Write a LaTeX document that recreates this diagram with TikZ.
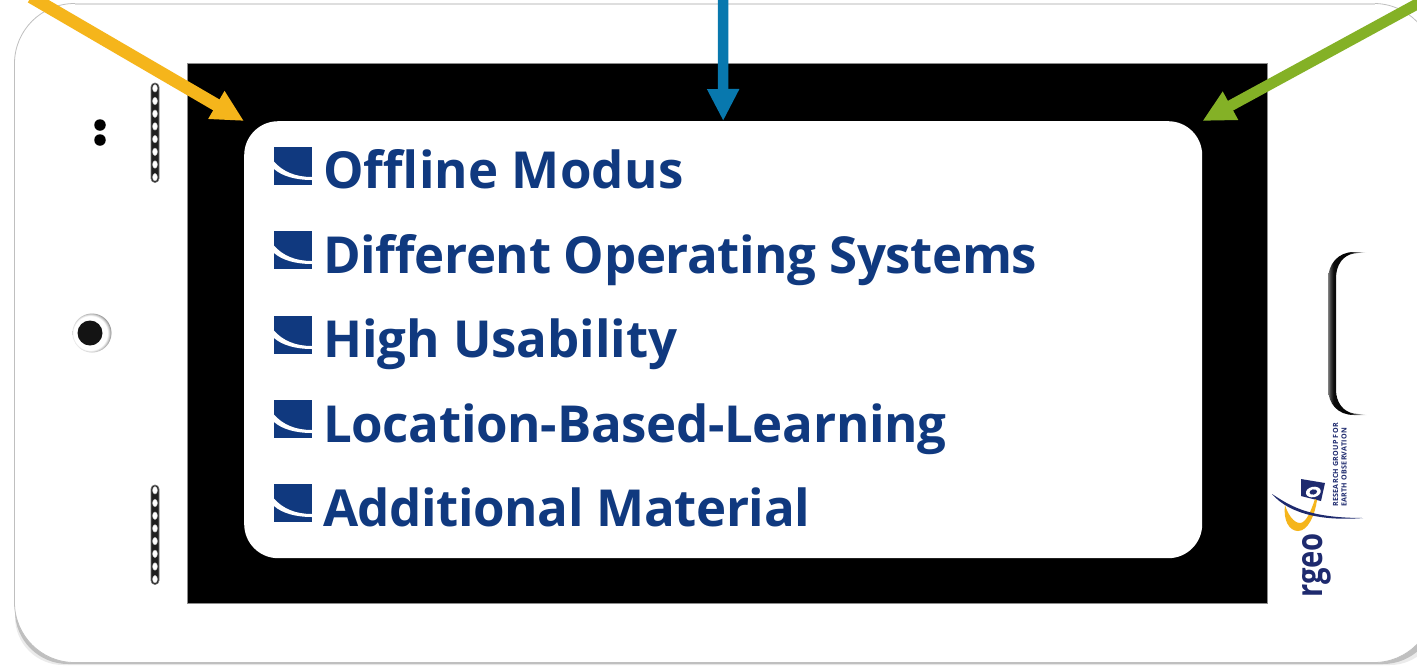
\documentclass[tikz,border=0pt]{standalone}
\usepackage{fontspec}
\usepackage{graphicx}
\setmainfont{Open Sans}
\usetikzlibrary{arrows.meta,calc,shapes.geometric}
\definecolor{navy}{HTML}{10397F}
\definecolor{logonavy}{HTML}{1E2A6E}
\definecolor{ayellow}{HTML}{F5B51B}
\definecolor{ablue}{HTML}{0878AE}
\definecolor{agreen}{HTML}{84B126}
\pgfdeclarehorizontalshading{homefade}{100bp}{color(0bp)=(black!50); color(25bp)=(black!50); color(28bp)=(black!75); color(32bp)=(black!95); color(52bp)=(black); color(75bp)=(white); color(100bp)=(white)}
\pgfdeclareradialshading{lensring}{\pgfpoint{-4bp}{0bp}}{color(0bp)=(white); color(22bp)=(white); color(24bp)=(black!18); color(26.5bp)=(black!45); color(50bp)=(black!45)}
\tikzset{
  x=1pt,y=-1pt,
  body/.style={draw=black!25,line width=.8pt,fill=white,rounded corners=60pt},
  callout/.style={line width=10.5pt,-{Triangle[width=30pt,length=32pt]}},
  item/.style={anchor=base west,text=navy,font=\fontsize{51}{60}\selectfont\bfseries,inner sep=0pt},
  bullet/.style={fill=navy},
  swoosh/.style={fill=white},
  speaker/.style={fill=black!88,draw=black!55,line width=.7pt,rounded corners=4pt},
  hole/.style={ellipse,fill=white,draw=black!30,line width=.4pt,inner sep=0pt,minimum width=5pt,minimum height=7.6pt},
  logotext/.style={text=logonavy,rotate=90,inner sep=0pt,font=\bfseries}
}
\newcommand{\bulletmark}[1]{%
  \fill[bullet] (274,#1) rectangle ++(38,38);
  \fill[swoosh] (274,#1+14.5) .. controls (283,#1+25) and (296,#1+30) .. (312,#1+30)
     -- (312,#1+33) .. controls (295,#1+33) and (282,#1+29) .. (274,#1+22) -- cycle;
}
\newcommand{\track}[2]{{\addfontfeature{LetterSpace=#1}#2}}
\begin{document}
\begin{tikzpicture}
\useasboundingbox (0,0) rectangle (1417,665);
% shadow and body
\begin{scope}
\clip (0,540) rectangle (1417,665);
\fill[rounded corners=48pt,black!8] (15,300) rectangle (1438,665);
\fill[rounded corners=53pt,black!25] (15,300) rectangle (1436,664);
\end{scope}
\draw[body] (14.5,3.5) rectangle (1434,662.5);
\draw[black!13,line width=2pt] (75,3.5) -- (1375,3.5);
% screen
\node[draw=black!45,line width=.8pt,fill=black,minimum width=1080pt,minimum height=539.5pt,inner sep=0pt,anchor=north west] (bezel) at (187,63.3) {};
\node[fill=white,rounded corners=34pt,minimum width=958pt,minimum height=437pt,inner sep=0pt,anchor=north west] (screen) at (244,121) {};
% list
\bulletmark{147}\node[item] (i1) at (323,188) {\track{0.3}{Offline Modus}};
\bulletmark{231}\node[item] (i2) at (323,273) {\track{-0.8}{Different Operating Systems}};
\bulletmark{316}\node[item] (i3) at (323,357) {\track{-0.1}{High Usability}};
\bulletmark{400}\node[item] (i4) at (323,442) {\track{-0.6}{Location-Based-Learning}};
\bulletmark{484}\node[item] (i5) at (323,526) {\track{-0.82}{Additional Material}};
% arrows
\coordinate (ya) at (31,-3);
\coordinate (ba) at (723,-3);
\coordinate (ga) at (1430,-3);
\draw[callout,ayellow,line width=12.6pt] (ya) -- (screen.north west);
\draw[callout,ablue] (ba) -- (screen.north);
\draw[callout,agreen,line width=11pt] (ga) -- (screen.north east);
% speakers
\foreach \top in {83,485}{
  \draw[speaker] (151,\top) rectangle ++(8,99.5);
  \foreach \i in {0,...,7}{
    \node[hole] (h\top\i) at (155,\top+5.3+\i*12.7) {};
  }
}
% sensor dots
\node[circle,fill=black,minimum size=11.5pt,inner sep=0pt] (s1) at (100,125) {};
\node[circle,fill=black,minimum size=11.5pt,inner sep=0pt] (s2) at (100,140) {};
% camera
\node[circle,shading=lensring,minimum size=39pt,inner sep=0pt] (camring) at (92,333) {};
\node[circle,fill=black!92,minimum size=25pt,inner sep=0pt] (lens) at (90,333) {};
% home button
\shade[shading=homefade] (1367,252) -- (1354,252)
   .. controls (1338,252) and (1328,264) .. (1328,280)
   -- (1328,388) .. controls (1328,404) and (1338,415) .. (1354,415)
   -- (1367,415) -- (1354,413.5) .. controls (1343,412) and (1336,402) .. (1336,390)
   -- (1336,278) .. controls (1336,265) and (1343,255) .. (1354,253.5) -- cycle;
% logo
\node[logotext,anchor=base west,font=\fontsize{36}{40}\selectfont\bfseries] (rgeo) at (1322,598) {\scalebox{.81}[1]{rgeo}};
\fill[logonavy] (1301,479) -- (1325,483) -- (1321,501) -- (1301,496) -- cycle;
\fill[white,rotate around={12:(1313.3,492)}] (1313.3,492) ellipse [x radius=7.5,y radius=5.2];
\fill[logonavy,rotate around={12:(1313.3,492)}] (1313.3,492) ellipse [x radius=3.8,y radius=2.6];
\fill[ayellow] (1285,505) .. controls (1283,520) and (1289,531) .. (1298,531)
   .. controls (1308,531) and (1315,515) .. (1317,500)
   -- (1315,499) .. controls (1311,511) and (1306,523) .. (1300,523)
   .. controls (1294,523) and (1288,515) .. (1285,505) -- cycle;
\fill[logonavy] (1272,494) .. controls (1288,504) and (1305,518) .. (1363,518)
   .. controls (1325,521) and (1290,515) .. (1272,494) -- cycle;
\node[logotext,anchor=south west,align=left,font=\fontsize{7.1}{8.6}\selectfont\bfseries] (rg) at (1347,507) {\track{4}{RESEARCH GROUP FOR}\\\track{4}{EARTH OBSERVATION}};
\end{tikzpicture}
\end{document}
